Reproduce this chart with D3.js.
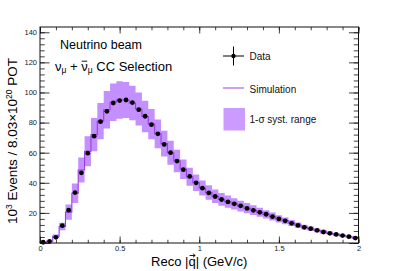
<!DOCTYPE html>
<html>
<head>
<meta charset="utf-8">
<script src="https://cdn.jsdelivr.net/npm/d3@7"></script>
<style>
  body { margin: 0; background: #fff; }
  svg { display: block; font-family: "Liberation Sans", Arial, sans-serif; }
</style>
</head>
<body>
<svg id="chart" width="399" height="271"></svg>
<script>
// bin edges run 0 -> 2 GeV/c in steps of 0.04
const binWidth = 0.04;
const binCenters = d3.range(50).map(i => +(0.02 + i * binWidth).toFixed(2));

// data points (10^3 events)
const dataValues = [
  0.5, 1.0, 3.8, 11.5, 21.8, 33.5, 46.6, 59.7, 71.0, 80.6,
  87.5, 93.0, 94.6, 95.0, 93.3, 88.6, 84.2, 78.6, 72.5, 65.5,
  60.0, 54.4, 48.7, 44.2, 40.0, 36.4, 33.3, 30.9, 28.9, 27.3,
  26.0, 24.7, 23.0, 21.7, 20.4, 19.1, 17.5, 16.0, 14.7, 13.1,
  11.7, 10.4, 9.5, 8.4, 7.3, 6.4, 5.7, 4.9, 4.2, 3.3
];

// simulation histogram
const simValues = [
  0.4, 1.2, 4.5, 11.0, 20.5, 33.0, 48.5, 61.0, 72.0, 81.0,
  88.5, 93.5, 95.0, 95.0, 93.0, 89.0, 84.0, 79.0, 72.5, 66.0,
  60.0, 54.5, 49.0, 44.0, 40.0, 36.5, 33.5, 31.0, 29.0, 27.5,
  26.0, 24.5, 23.2, 21.8, 20.4, 19.0, 17.6, 16.1, 14.7, 13.3,
  11.9, 10.6, 9.5, 8.4, 7.4, 6.5, 5.7, 4.9, 4.2, 3.4
];

// 1-sigma systematic half-width
const systValues = [
  0.3, 0.5, 1.2, 2.5, 5.0, 6.5, 8.3, 10.0, 11.0, 12.0,
  12.5, 12.5, 12.5, 12.0, 11.5, 11.0, 10.5, 10.0, 9.5, 8.5,
  8.0, 7.5, 6.5, 6.0, 5.5, 5.0, 4.8, 4.5, 4.3, 4.0,
  3.8, 3.6, 3.4, 3.2, 3.0, 2.8, 2.6, 2.4, 2.2, 2.0,
  1.8, 1.6, 1.4, 1.3, 1.2, 1.1, 1.0, 0.9, 0.8, 0.7
];

const xMajor = [0, 0.5, 1, 1.5, 2];
const yMajor = [0, 20, 40, 60, 80, 100, 120, 140];

const width = 399, height = 271;
const margin = {top: 27, right: 40.5, bottom: 28, left: 40};
const svg = d3.select("#chart");

const x = d3.scaleLinear().domain([0, 2]).range([margin.left, width - margin.right]);
const y = d3.scaleLinear().domain([0, 143.5]).range([height - margin.bottom, margin.top]);

const bandColor = "#c490ff";
const simColor = "#9a3edb";

// build step shapes from the bins
let bins = binCenters.map((c, i) => ({
  x0: c - binWidth / 2, x1: c + binWidth / 2,
  sim: simValues[i], syst: systValues[i], data: dataValues[i]
}));

let stepPts = [];
bins.forEach(b => {
  stepPts.push({x: b.x0, lo: b.sim - b.syst, hi: b.sim + b.syst, v: b.sim});
  stepPts.push({x: b.x1, lo: b.sim - b.syst, hi: b.sim + b.syst, v: b.sim});
});

let band = d3.area()
  .x(d => x(d.x))
  .y0(d => y(Math.max(d.lo, 0)))
  .y1(d => y(d.hi));

svg.append("path")
  .datum(stepPts)
  .attr("d", band)
  .attr("fill", bandColor);

let simLine = d3.line().x(d => x(d.x)).y(d => y(d.v));
svg.append("path")
  .datum([{x: 0, v: 0}].concat(stepPts))
  .attr("d", simLine)
  .attr("fill", "none")
  .attr("stroke", simColor)
  .attr("stroke-width", 1.1);

// data points
svg.append("g").selectAll("circle")
  .data(bins)
  .enter()
  .append("circle")
  .attr("cx", d => x((d.x0 + d.x1) / 2))
  .attr("cy", d => y(d.data))
  .attr("r", 2.4)
  .attr("fill", "#000");

// frame + ticks (ROOT style, ticks on all sides pointing in)
const plotW = width - margin.left - margin.right;
const plotH = height - margin.top - margin.bottom;
const yTick = 0.03 * plotW, xTick = 0.03 * plotH;

function styleAxis(g) {
  g.select(".domain").remove();
  g.selectAll("line").attr("stroke", "#111").attr("stroke-width", 0.8);
  g.selectAll("text").attr("fill", "#222").style("font-size", "7.5px");
}

const xMinor = d3.range(0, 2.001, 0.1);
const yMinor = d3.range(0, 143, 4);

// bottom
svg.append("g").attr("transform", `translate(0,${y(0)})`)
  .call(d3.axisBottom(x).tickValues(xMinor).tickSize(-xTick / 2).tickFormat(""))
  .call(styleAxis);
svg.append("g").attr("transform", `translate(0,${y(0)})`)
  .call(d3.axisBottom(x).tickValues(xMajor).tickSize(-xTick).tickPadding(3).tickFormat(d3.format("")))
  .call(styleAxis);
// top
svg.append("g").attr("transform", `translate(0,${margin.top})`)
  .call(d3.axisTop(x).tickValues(xMinor).tickSize(-xTick / 2).tickFormat(""))
  .call(styleAxis);
svg.append("g").attr("transform", `translate(0,${margin.top})`)
  .call(d3.axisTop(x).tickValues(xMajor).tickSize(-xTick).tickFormat(""))
  .call(styleAxis);
// left
svg.append("g").attr("transform", `translate(${margin.left},0)`)
  .call(d3.axisLeft(y).tickValues(yMinor).tickSize(-yTick / 2).tickFormat(""))
  .call(styleAxis);
svg.append("g").attr("transform", `translate(${margin.left},0)`)
  .call(d3.axisLeft(y).tickValues(yMajor).tickSize(-yTick).tickPadding(3)
    .tickFormat(d => d === 0 ? "" : d))
  .call(styleAxis);
// right
svg.append("g").attr("transform", `translate(${width - margin.right},0)`)
  .call(d3.axisRight(y).tickValues(yMinor).tickSize(-yTick / 2).tickFormat(""))
  .call(styleAxis);
svg.append("g").attr("transform", `translate(${width - margin.right},0)`)
  .call(d3.axisRight(y).tickValues(yMajor).tickSize(-yTick).tickFormat(""))
  .call(styleAxis);

svg.append("rect")
  .attr("x", margin.left).attr("y", margin.top)
  .attr("width", plotW).attr("height", plotH)
  .attr("fill", "none").attr("stroke", "#111").attr("stroke-width", 1);

// axis titles
let xt = svg.append("text")
  .attr("x", (margin.left + width - margin.right) / 2)
  .attr("y", 266)
  .attr("text-anchor", "middle")
  .style("font-size", "13px")
  .text("Reco |q| (GeV/c)");
// vector arrow over q
{
  let e = xt.node().getExtentOfChar(6);
  let ay = 266 - 10.5, ax0 = e.x + 1.2, ax1 = e.x + e.width - 0.5;
  svg.append("path")
    .attr("d", `M${ax0},${ay}H${ax1}M${ax1 - 2.2},${ay - 1.8}L${ax1},${ay}L${ax1 - 2.2},${ay + 1.8}`)
    .attr("fill", "none").attr("stroke", "#000").attr("stroke-width", 0.9);
}

let yt = svg.append("text")
  .attr("transform", "translate(17,141) rotate(-90)")
  .attr("text-anchor", "middle")
  .style("font-size", "13.5px");
yt.append("tspan").text("10");
yt.append("tspan").attr("dy", -5).style("font-size", "8.5px").text("3");
yt.append("tspan").attr("dy", 5).text(" Events / 8.03\u00D710");
yt.append("tspan").attr("dy", -5).style("font-size", "8.5px").text("20");
yt.append("tspan").attr("dy", 5).text(" POT");

// labels in the plot
svg.append("text").attr("x", 60).attr("y", 48.5)
  .style("font-size", "12.5px").text("Neutrino beam");

let sel = svg.append("text").attr("x", 55).attr("y", 70.5).style("font-size", "13px");
sel.append("tspan").text("\u03BD");
sel.append("tspan").attr("dy", 2.5).style("font-size", "8.5px").text("\u03BC");
sel.append("tspan").attr("dy", -2.5).text(" + \u03BD");
sel.append("tspan").attr("dy", 2.5).style("font-size", "8.5px").text("\u03BC");
sel.append("tspan").attr("dy", -2.5).text(" CC Selection");
// bar over the second nu
{
  let e = sel.node().getExtentOfChar(5);
  svg.append("line")
    .attr("x1", e.x + 0.5).attr("x2", e.x + e.width - 0.5)
    .attr("y1", 70.5 - 9.3).attr("y2", 70.5 - 9.3)
    .attr("stroke", "#000").attr("stroke-width", 0.9);
}

// legend
const leg = svg.append("g");
leg.append("line").attr("x1", 223).attr("x2", 244).attr("y1", 56).attr("y2", 56)
  .attr("stroke", "#000").attr("stroke-width", 1);
leg.append("line").attr("x1", 233.5).attr("x2", 233.5).attr("y1", 46.5).attr("y2", 65.5)
  .attr("stroke", "#000").attr("stroke-width", 1);
leg.append("circle").attr("cx", 233.5).attr("cy", 56).attr("r", 2.2).attr("fill", "#000");
leg.append("line").attr("x1", 223).attr("x2", 244).attr("y1", 88).attr("y2", 88)
  .attr("stroke", "#b36ee8").attr("stroke-width", 1.3);
leg.append("rect").attr("x", 223.5).attr("y", 108).attr("width", 21.5).attr("height", 22.5)
  .attr("fill", "#cc9bff");

[["Data", 60], ["Simulation", 92.5], ["1-\u03C3 syst. range", 122.5]].forEach(t => {
  leg.append("text").attr("x", 249.5).attr("y", t[1])
    .style("font-size", "10px").attr("fill", "#111").text(t[0]);
});
</script>
</body>
</html>
